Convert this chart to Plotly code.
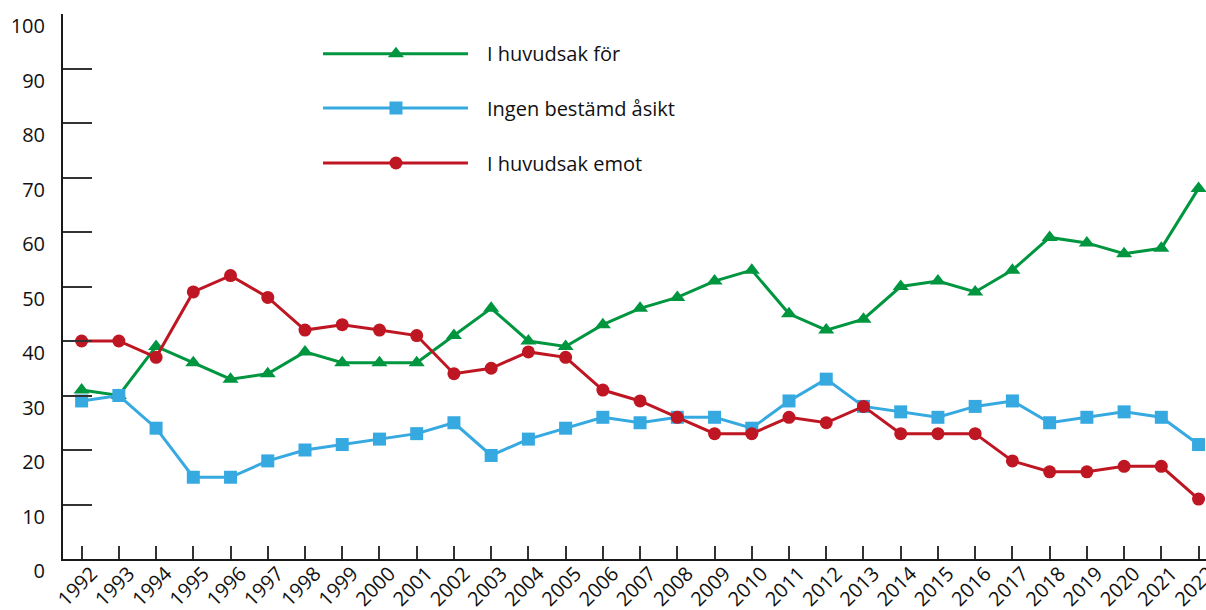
import plotly.graph_objects as go

ar = list(range(1992, 2023))

for_ = [31, 30, 39, 36, 33, 34, 38, 36, 36, 36, 41, 46, 40, 39, 43, 46,
        48, 51, 53, 45, 42, 44, 50, 51, 49, 53, 59, 58, 56, 57, 68]
ingen = [29, 30, 24, 15, 15, 18, 20, 21, 22, 23, 25, 19, 22, 24, 26, 25,
         26, 26, 24, 29, 33, 28, 27, 26, 28, 29, 25, 26, 27, 26, 21]
emot = [40, 40, 37, 49, 52, 48, 42, 43, 42, 41, 34, 35, 38, 37, 31, 29,
        26, 23, 23, 26, 25, 28, 23, 23, 23, 18, 16, 16, 17, 17, 11]

namn = ["I huvudsak för", "Ingen bestämd åsikt", "I huvudsak emot"]
farger = ["#009640", "#36A9E1", "#BE1622"]
symboler = ["triangle-up", "square", "circle"]
storlek = [14, 13, 13]
serier = [for_, ingen, emot]

fig = go.Figure()

for s, n, c, sym, st in zip(serier, namn, farger, symboler, storlek):
    fig.add_trace(go.Scatter(
        x=ar, y=s, name=n, mode="lines+markers",
        line=dict(color=c, width=3),
        marker=dict(symbol=sym, size=st, color=c),
        cliponaxis=False,
    ))

# egen teckenförklaring (lång linje med markör i mitten)
leg_y = [0.927, 0.8275, 0.7266]
for n, c, sym, st, yy in zip(namn, farger, symboler, storlek, leg_y):
    fig.add_trace(go.Scatter(
        x=[0.2275, 0.3543], y=[yy, yy], mode="lines",
        line=dict(color=c, width=3), xaxis="x2", yaxis="y2",
        hoverinfo="skip",
    ))
    fig.add_trace(go.Scatter(
        x=[0.2913], y=[yy], mode="markers",
        marker=dict(symbol=sym, size=st, color=c), xaxis="x2", yaxis="y2",
        hoverinfo="skip",
    ))
    fig.add_annotation(
        x=0.3692, y=yy, xref="paper", yref="paper", text=n,
        showarrow=False, xanchor="left", yanchor="middle",
        font=dict(size=20, color="#111", family="Open Sans"),
    )

fig.update_layout(
    width=1206, height=610,
    margin=dict(l=63, r=0, t=14, b=51),
    plot_bgcolor="white", paper_bgcolor="white",
    showlegend=False,
    font=dict(family="Open Sans", size=20, color="#111"),
    xaxis=dict(
        range=[1991.5, 2022.2], tickmode="array", tickvals=ar,
        ticktext=[str(a) for a in ar], tickangle=-45,
        ticks="inside", ticklen=13, tickwidth=1.5, tickcolor="#333",
        showline=True, linecolor="#1a1a1a", linewidth=2,
        showgrid=False, zeroline=False, ticklabelshift=10,
        ticklabelstandoff=-7, ticklabeloverflow="allow",
        tickfont=dict(size=20), automargin=False,
    ),
    yaxis=dict(
        range=[0, 100], tickvals=list(range(0, 101, 10)),
        ticks="inside", ticklen=29, tickwidth=1.5, tickcolor="#333",
        showline=True, linecolor="#1a1a1a", linewidth=2,
        showgrid=False, zeroline=False, ticklabelshift=12,
        ticklabelstandoff=12, tickfont=dict(size=20), automargin=False,
    ),
    xaxis2=dict(range=[0, 1], overlaying="x", visible=False),
    yaxis2=dict(range=[0, 1], overlaying="y", visible=False),
)

fig.write_html("out.html", config={"displayModeBar": False},
               post_script="document.body.style.margin='0px';")
